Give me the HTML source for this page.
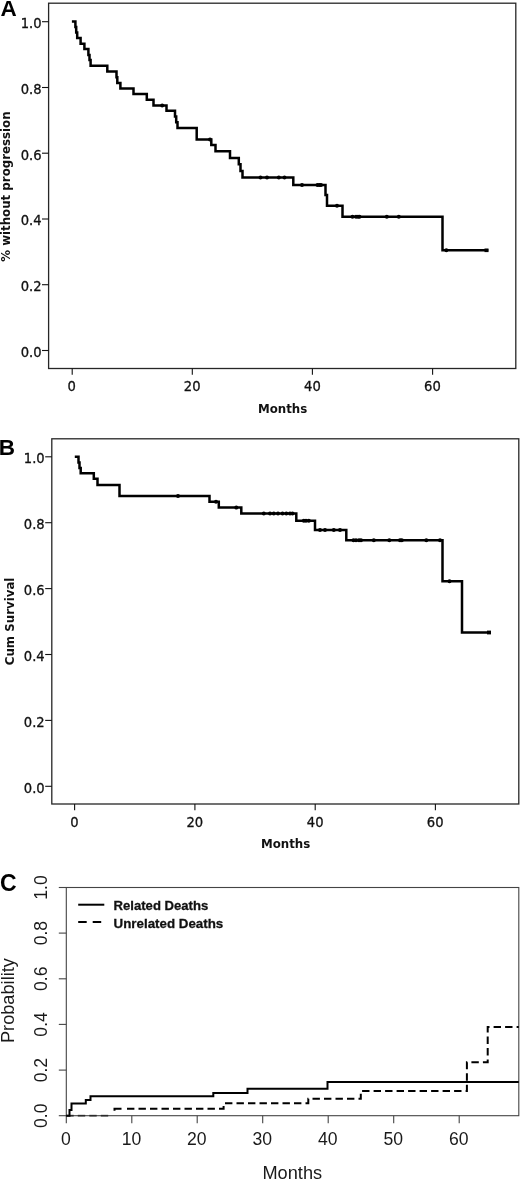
<!DOCTYPE html>
<html lang="en">
<head>
<meta charset="utf-8">
<title>Figure</title>
<style>
html,body{margin:0;padding:0;background:#fff;}
body{width:520px;height:1180px;overflow:hidden;}
svg{display:block;}
.t{font-family:"DejaVu Sans Condensed","DejaVu Sans","Liberation Sans",sans-serif;font-stretch:condensed;font-size:14.6px;fill:#111;stroke:#111;stroke-width:.3;}
.b{font-family:"DejaVu Sans","Liberation Sans",sans-serif;font-weight:bold;font-size:11.8px;fill:#111;}
.p{font-family:"Liberation Sans",sans-serif;font-weight:bold;font-size:22.5px;fill:#000;}
.c{font-family:"Liberation Sans",sans-serif;font-size:17.6px;fill:#1a1a1a;}
.cl{font-family:"Liberation Sans",sans-serif;font-size:18.2px;fill:#1a1a1a;}
.lg{font-family:"Liberation Sans",sans-serif;font-weight:bold;font-size:13.7px;fill:#111;stroke:#111;stroke-width:.3;}
.fr{fill:none;stroke:#262626;stroke-width:1.3;}
.tk{stroke:#111;stroke-width:1.1;}
.cv{fill:none;stroke:#000;stroke-width:2.5;stroke-linejoin:miter;}
.dot{fill:#000;}
.fc{fill:none;stroke:#444;stroke-width:1.1;}
.cc{fill:none;stroke:#000;stroke-width:2;}
</style>
</head>
<body>
<svg width="520" height="1180" viewBox="0 0 520 1180">
<rect width="520" height="1180" fill="#fff"/>

<!-- ================= Panel A ================= -->
<g id="panelA">
<text class="p" x="0.6" y="16.3">A</text>
<rect class="fr" x="48.6" y="3.2" width="467.2" height="365.3"/>
<g class="tk">
<line x1="42" x2="48.6" y1="21.7" y2="21.7"/>
<line x1="42" x2="48.6" y1="87.5" y2="87.5"/>
<line x1="42" x2="48.6" y1="153.2" y2="153.2"/>
<line x1="42" x2="48.6" y1="219" y2="219"/>
<line x1="42" x2="48.6" y1="284.7" y2="284.7"/>
<line x1="42" x2="48.6" y1="350.5" y2="350.5"/>
<line x1="72.2" x2="72.2" y1="368.5" y2="374.8"/>
<line x1="192.3" x2="192.3" y1="368.5" y2="374.8"/>
<line x1="312.4" x2="312.4" y1="368.5" y2="374.8"/>
<line x1="432.6" x2="432.6" y1="368.5" y2="374.8"/>
</g>
<g class="t" text-anchor="end">
<text x="41.5" y="28.1">1.0</text>
<text x="41.5" y="93.9">0.8</text>
<text x="41.5" y="159.6">0.6</text>
<text x="41.5" y="225.4">0.4</text>
<text x="41.5" y="291.1">0.2</text>
<text x="41.5" y="356.9">0.0</text>
</g>
<g class="t" text-anchor="middle">
<text x="71.6" y="391">0</text>
<text x="192.2" y="391">20</text>
<text x="312.4" y="391">40</text>
<text x="432.4" y="391">60</text>
</g>
<text class="b" text-anchor="middle" x="282.6" y="413">Months</text>
<text class="b" text-anchor="middle" transform="translate(10.3,186.6) rotate(-90)">% without progression</text>
<path class="cv" d="M71.9,21.5 H75.4 V27 H76.2 V32.5 H77.2 V38.1 H80.6 V43.8 H84.4 V49 H88.4 V55 H89.5 V60 H90.6 V65.8 H107.3 V71.5 H116.5 V77.3 H117.3 V83.1 H120.4 V88.5 H133.5 V93.9 H146.8 V99.7 H153.5 V105.4 H166.5 V110.8 H175 V116.5 H176.2 V122.3 H177.5 V127.9 H196.7 V139.5 H211.3 V145 H215.5 V151.3 H230 V158 H238.8 V164.3 H240.5 V171 H242.5 V177.5 H293.3 V185 H325.5 V195 H327 V205.8 H342.5 V216.8 H442.5 V250.3 H488.3"/>
<g class="dot">
<circle cx="162.2" cy="105.4" r="2"/><circle cx="210" cy="139.5" r="2"/>
<circle cx="260.5" cy="177.5" r="2"/><circle cx="267" cy="177.5" r="2"/><circle cx="278.8" cy="177.5" r="2"/><circle cx="284.5" cy="177.5" r="2"/>
<circle cx="302" cy="185" r="2"/><circle cx="317.5" cy="185" r="2"/><circle cx="319.5" cy="185" r="2"/><circle cx="321" cy="185" r="2"/>
<circle cx="337" cy="205.8" r="2"/>
<circle cx="352.5" cy="216.8" r="2"/><circle cx="356" cy="216.8" r="2"/><circle cx="358" cy="216.8" r="2"/><circle cx="359.5" cy="216.8" r="2"/><circle cx="386.8" cy="216.8" r="2"/><circle cx="398.8" cy="216.8" r="2"/>
<circle cx="446.3" cy="250.3" r="2"/><rect x="484.5" y="248.5" width="4" height="3.6"/>
</g>
</g>
<!-- ================= Panel B ================= -->
<g id="panelB">
<text class="p" x="-1.3" y="454.7">B</text>
<rect class="fr" x="51.8" y="438.8" width="467" height="365.2"/>
<g class="tk">
<line x1="45.2" x2="51.8" y1="456.8" y2="456.8"/>
<line x1="45.2" x2="51.8" y1="522.7" y2="522.7"/>
<line x1="45.2" x2="51.8" y1="588.6" y2="588.6"/>
<line x1="45.2" x2="51.8" y1="654.5" y2="654.5"/>
<line x1="45.2" x2="51.8" y1="720.4" y2="720.4"/>
<line x1="45.2" x2="51.8" y1="786.3" y2="786.3"/>
<line x1="74.6" x2="74.6" y1="804" y2="810.3"/>
<line x1="194.9" x2="194.9" y1="804" y2="810.3"/>
<line x1="315.2" x2="315.2" y1="804" y2="810.3"/>
<line x1="435.4" x2="435.4" y1="804" y2="810.3"/>
</g>
<g class="t" text-anchor="end">
<text x="44.7" y="463.2">1.0</text>
<text x="44.7" y="529.1">0.8</text>
<text x="44.7" y="595.0">0.6</text>
<text x="44.7" y="660.9">0.4</text>
<text x="44.7" y="726.8">0.2</text>
<text x="44.7" y="792.7">0.0</text>
</g>
<g class="t" text-anchor="middle">
<text x="74.4" y="826.8">0</text>
<text x="194.8" y="826.8">20</text>
<text x="315.2" y="826.8">40</text>
<text x="435.2" y="826.8">60</text>
</g>
<text class="b" text-anchor="middle" x="285.6" y="848.4">Months</text>
<text class="b" text-anchor="middle" transform="translate(14.2,621.4) rotate(-90)">Cum Survival</text>
<path class="cv" d="M74.8,456.8 H78.5 V462.5 H79.5 V468 H80.7 V473.3 H93.8 V478.8 H97.5 V485 H119.5 V495.9 H209.5 V501.8 H218.8 V507.5 H241.3 V513.5 H296.3 V520.8 H315 V530 H346.3 V540.3 H442.5 V581.3 H462 V632.5 H490.5"/>
<g class="dot">
<circle cx="178" cy="495.9" r="2"/><circle cx="216" cy="501.8" r="2"/><circle cx="236.3" cy="507.5" r="2"/>
<circle cx="263.8" cy="513.5" r="2"/><circle cx="270" cy="513.5" r="2"/><circle cx="273.8" cy="513.5" r="2"/><circle cx="278" cy="513.5" r="2"/><circle cx="282.5" cy="513.5" r="2"/><circle cx="286.3" cy="513.5" r="2"/><circle cx="290" cy="513.5" r="2"/><circle cx="292.5" cy="513.5" r="2"/>
<circle cx="303.8" cy="520.8" r="2"/><circle cx="306" cy="520.8" r="2"/><circle cx="308.8" cy="520.8" r="2"/>
<circle cx="320" cy="530" r="2"/><circle cx="325" cy="530" r="2"/><circle cx="333.8" cy="530" r="2"/><circle cx="340" cy="530" r="2"/>
<circle cx="353.5" cy="540.3" r="2"/><circle cx="356" cy="540.3" r="2"/><circle cx="359" cy="540.3" r="2"/><circle cx="361" cy="540.3" r="2"/><circle cx="373.8" cy="540.3" r="2"/><circle cx="389.3" cy="540.3" r="2"/><circle cx="400" cy="540.3" r="2"/><circle cx="401.8" cy="540.3" r="2"/><circle cx="426.3" cy="540.3" r="2"/><circle cx="440" cy="540.3" r="2"/>
<circle cx="449.5" cy="581.3" r="2"/><rect x="487" y="630.6" width="4" height="3.8"/>
</g>
</g>

<!-- ================= Panel C ================= -->
<g id="panelC">
<text class="p" x="0" y="891.1" style="font-size:23px">C</text>
<rect class="fc" x="66.3" y="887.5" width="452.5" height="228.2"/>
<g class="fc">
<line x1="58.8" x2="66.3" y1="887.5" y2="887.5"/>
<line x1="58.8" x2="66.3" y1="933.1" y2="933.1"/>
<line x1="58.8" x2="66.3" y1="978.8" y2="978.8"/>
<line x1="58.8" x2="66.3" y1="1024.4" y2="1024.4"/>
<line x1="58.8" x2="66.3" y1="1070.1" y2="1070.1"/>
<line x1="58.8" x2="66.3" y1="1115.7" y2="1115.7"/>
<line x1="66.3" x2="66.3" y1="1115.7" y2="1123.2"/>
<line x1="131.8" x2="131.8" y1="1115.7" y2="1123.2"/>
<line x1="197.2" x2="197.2" y1="1115.7" y2="1123.2"/>
<line x1="262.7" x2="262.7" y1="1115.7" y2="1123.2"/>
<line x1="328.2" x2="328.2" y1="1115.7" y2="1123.2"/>
<line x1="393.7" x2="393.7" y1="1115.7" y2="1123.2"/>
<line x1="459.2" x2="459.2" y1="1115.7" y2="1123.2"/>
</g>
<g class="c" text-anchor="middle">
<text transform="translate(46.8,887.5) rotate(-90)">1.0</text>
<text transform="translate(46.8,933.1) rotate(-90)">0.8</text>
<text transform="translate(46.8,978.8) rotate(-90)">0.6</text>
<text transform="translate(46.8,1024.4) rotate(-90)">0.4</text>
<text transform="translate(46.8,1070.1) rotate(-90)">0.2</text>
<text transform="translate(46.8,1115.7) rotate(-90)">0.0</text>
<text x="66" y="1145.4">0</text>
<text x="131.6" y="1145.4">10</text>
<text x="196.8" y="1145.4">20</text>
<text x="262.3" y="1145.4">30</text>
<text x="327.8" y="1145.4">40</text>
<text x="393.3" y="1145.4">50</text>
<text x="458.8" y="1145.4">60</text>
</g>
<text class="cl" text-anchor="middle" x="292.3" y="1179.2">Months</text>
<text class="cl" text-anchor="middle" transform="translate(13.8,1000.6) rotate(-90)">Probability</text>
<line class="cc" x1="78.2" x2="104.3" y1="904.7" y2="904.7"/>
<line class="cc" x1="78.2" x2="102" y1="922" y2="922" stroke-dasharray="8.5 6"/>
<text class="lg" x="113.6" y="909.6" textLength="94.6" lengthAdjust="spacingAndGlyphs">Related Deaths</text>
<text class="lg" x="113.6" y="927.6" textLength="109.6" lengthAdjust="spacingAndGlyphs">Unrelated Deaths</text>
<path class="cc" d="M66.3,1115.7 H69.5 V1110 H71.5 V1103.5 H85.8 V1100 H90.5 V1096.2 H213.3 V1093 H247.5 V1088.8 H327.5 V1082 H518.8"/>
<path class="cc" stroke-dasharray="7.4 4.1" stroke-opacity=".55" stroke-width="1.1" d="M66.3,1115.7 H112"/>
<path class="cc" d="M114.5,1110.8 V1108.8 H121.5"/>
<path class="cc" stroke-dasharray="7.4 4.1" d="M127,1108.8 H223.6 V1103.3 H308.3 V1098.8 H360.8 V1090.9 H466.9 V1062.2 H487.7 V1026.9 H518.8"/>
</g>

</svg>
</body>
</html>
